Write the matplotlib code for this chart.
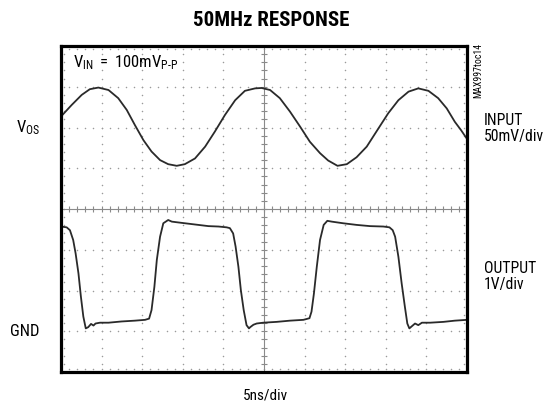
import matplotlib
matplotlib.use("Agg")
import matplotlib.pyplot as plt
import numpy as np
from matplotlib import font_manager

# ---------------- data (divisions) ----------------
input_t = [0.0, 0.26, 0.51, 0.71, 0.92, 1.17, 1.41, 1.62, 1.82, 2.03, 2.23, 2.44, 2.64, 2.85,
           3.05, 3.30, 3.55, 3.79, 4.04, 4.29, 4.53, 4.78, 4.94, 5.15, 5.39, 5.64, 5.89, 6.13,
           6.38, 6.58, 6.81, 7.04, 7.28, 7.53, 7.82, 8.06, 8.31, 8.56, 8.80, 9.05, 9.29, 9.50,
           9.70, 9.85, 10.0]
input_v = [6.27, 6.55, 6.80, 6.94, 6.98, 6.92, 6.72, 6.43, 6.06, 5.69, 5.41, 5.20, 5.10, 5.06,
           5.10, 5.24, 5.53, 5.90, 6.31, 6.67, 6.90, 6.96, 6.97, 6.92, 6.72, 6.39, 6.02, 5.65,
           5.37, 5.19, 5.06, 5.10, 5.27, 5.53, 5.98, 6.35, 6.67, 6.88, 6.96, 6.90, 6.72, 6.47,
           6.14, 5.94, 5.72]

output_t = [0.0, 0.14, 0.22, 0.30, 0.36, 0.43, 0.49, 0.55, 0.61, 0.67, 0.74, 0.80, 0.85, 0.96,
            1.17, 1.49, 1.82, 2.07, 2.17, 2.23, 2.30, 2.36, 2.44, 2.52, 2.64, 2.73, 2.97, 3.30,
            3.63, 3.88, 4.08, 4.16, 4.24, 4.30, 4.37, 4.43, 4.50, 4.57, 4.63, 4.66, 4.74, 4.82,
            4.98, 5.31, 5.64, 5.97, 6.12, 6.17, 6.23, 6.30, 6.38, 6.47, 6.56, 6.67, 6.95, 7.28,
            7.61, 7.94, 8.09, 8.17, 8.23, 8.31, 8.39, 8.47, 8.53, 8.58, 8.65, 8.72, 8.80, 8.89,
            9.09, 9.42, 9.70, 10.0]
output_v = [3.57, 3.55, 3.48, 3.24, 2.91, 2.42, 1.85, 1.36, 1.07, 1.10, 1.18, 1.14, 1.19, 1.21,
            1.21, 1.24, 1.26, 1.28, 1.31, 1.52, 2.09, 2.75, 3.32, 3.65, 3.73, 3.69, 3.66, 3.62,
            3.58, 3.57, 3.55, 3.53, 3.40, 3.08, 2.58, 2.01, 1.52, 1.15, 1.07, 1.10, 1.16, 1.19,
            1.21, 1.23, 1.26, 1.28, 1.32, 1.48, 1.93, 2.58, 3.24, 3.61, 3.71, 3.69, 3.65, 3.61,
            3.58, 3.57, 3.55, 3.48, 3.32, 2.83, 2.18, 1.60, 1.19, 1.07, 1.13, 1.19, 1.15, 1.21,
            1.21, 1.23, 1.26, 1.28]

title = "50MHz RESPONSE"
xlabel = "5ns/div"
vos_level = 6
gnd_level = 1

# ---------------- fonts ----------------
avail = {f.name for f in font_manager.fontManager.ttflist}
narrow = "Liberation Sans"
for cand in ["Liberation Sans Narrow", "Roboto Condensed", "Archivo Narrow", "Barlow Condensed",
             "Asap Condensed"]:
    if cand in avail:
        narrow = cand
        break
plt.rcParams["font.family"] = [narrow, "DejaVu Sans"]
plt.rcParams["mathtext.fontset"] = "custom"
plt.rcParams["mathtext.rm"] = narrow
plt.rcParams["mathtext.it"] = narrow
plt.rcParams["mathtext.bf"] = narrow + ":bold"

fig = plt.figure(figsize=(5.45, 4.05), dpi=100)
ax = fig.add_axes([61 / 545, 1 - 372 / 405, (467 - 61) / 545, (372 - 46) / 405])
ax.set_xlim(0, 10)
ax.set_ylim(0, 8)
ax.set_xticks([])
ax.set_yticks([])
for s in ax.spines.values():
    s.set_linewidth(2.3)
    s.set_color("black")

# graticule
dots = np.arange(0, 10.01, 0.2)
dotsy = np.arange(0, 8.01, 0.2)
gcol = "#9a9a9a"
for i in range(1, 10):
    if i == 5:
        continue
    ax.plot(np.full_like(dotsy, i), dotsy, ls="none", marker="o", ms=1.1, color=gcol, mew=0)
for j in range(1, 8):
    if j == 4:
        continue
    ax.plot(dots, np.full_like(dots, j), ls="none", marker="o", ms=1.1, color=gcol, mew=0)
ax.plot(dots, np.full_like(dots, 0.07), ls="none", marker="o", ms=1.1, color=gcol, mew=0)
ax.plot(dots, np.full_like(dots, 7.93), ls="none", marker="o", ms=1.1, color=gcol, mew=0)
ax.plot(np.full_like(dotsy, 0.07), dotsy, ls="none", marker="o", ms=1.1, color=gcol, mew=0)
ax.plot(np.full_like(dotsy, 9.93), dotsy, ls="none", marker="o", ms=1.1, color=gcol, mew=0)
ax.axhline(4, color="#8a8a8a", lw=0.8)
ax.axvline(5, color="#8a8a8a", lw=0.8)
ax.plot(dots, np.full_like(dots, 4), ls="none", marker="|", ms=4, mew=0.8, color="#8a8a8a")
ax.plot(np.full_like(dotsy, 5), dotsy, ls="none", marker="_", ms=4, mew=0.8, color="#8a8a8a")

# traces
ax.plot(input_t, input_v, color="#2a2a2a", lw=1.3, solid_joinstyle="round")
ax.plot(output_t, output_v, color="#2a2a2a", lw=1.3, solid_joinstyle="round")

# texts
fig.text(271 / 545, 1 - 20 / 405, title, ha="center", va="center",
         fontsize=15, fontweight="heavy")
fig.text(265 / 545, 1 - 395 / 405, xlabel, ha="center", va="center", fontsize=11)
ax.text(0.3, 7.6, r"$\mathregular{V_{IN}\ =\ 100mV_{P\text{-}P}}$", ha="left", va="center",
        fontsize=12)
ax.text(-0.52, vos_level, r"$\mathregular{V_{OS}}$", ha="right", va="center", fontsize=12)
ax.text(-0.52, gnd_level, "GND", ha="right", va="center", fontsize=12)
fig.text(484 / 545, 1 - 113 / 405, "INPUT\n50mV/div", ha="left", va="top", fontsize=11.3,
         linespacing=1.1)
fig.text(484 / 545, 1 - 261 / 405, "OUTPUT\n1V/div", ha="left", va="top", fontsize=11.3,
         linespacing=1.1)
fig.text(478 / 545, 1 - 43 / 405, "MAX997toc14", rotation=90, ha="center", va="top",
         fontsize=7)

fig.savefig("out.png", dpi=100)
